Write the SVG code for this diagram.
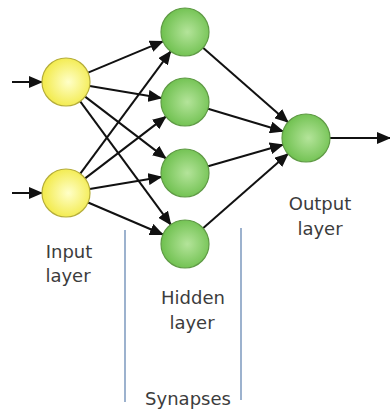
<svg xmlns="http://www.w3.org/2000/svg" width="390" height="410" viewBox="0 0 390 410">
<style>
.edge{stroke:#111;stroke-width:2;fill:none;marker-end:url(#ah)}
.yel{fill:url(#gy);stroke:#b5ad3a;stroke-width:1.2}
.grn{fill:url(#gg);stroke:#5f9a45;stroke-width:1.2}
.lbl{font-family:"DejaVu Sans",Verdana,sans-serif;font-size:18px;fill:#3c3c3c;text-anchor:middle}
.syn{stroke:#5b7fae;stroke-width:1.2}
</style>
<defs>
<radialGradient id="gy" cx="0.55" cy="0.5" r="0.55">
<stop offset="0" stop-color="#ffffc8"/>
<stop offset="1" stop-color="#f2ea48"/>
</radialGradient>
<radialGradient id="gg" cx="0.55" cy="0.5" r="0.55">
<stop offset="0" stop-color="#b4e49a"/>
<stop offset="1" stop-color="#6ec04e"/>
</radialGradient>
<marker id="ah" markerUnits="userSpaceOnUse" markerWidth="14" markerHeight="12" refX="13" refY="6" orient="auto">
<path d="M0,0 L14,6 L0,12 z" fill="#111"/>
</marker>
</defs>
<g id="connectors">
<line class="edge" x1="12" y1="82" x2="42" y2="82"/>
<line class="edge" x1="12" y1="193" x2="42" y2="193"/>
<line class="edge" x1="88.1" y1="72.7" x2="162.9" y2="41.3"/>
<line class="edge" x1="89.7" y1="86" x2="161.3" y2="98"/>
<line class="edge" x1="85.1" y1="96.6" x2="165.9" y2="158.4"/>
<line class="edge" x1="80.2" y1="101.3" x2="170.8" y2="224.7"/>
<line class="edge" x1="80.3" y1="173.7" x2="170.7" y2="51.3"/>
<line class="edge" x1="85.1" y1="178.4" x2="165.9" y2="116.6"/>
<line class="edge" x1="89.7" y1="189" x2="161.3" y2="177"/>
<line class="edge" x1="88.1" y1="202.5" x2="162.9" y2="234.5"/>
<line class="edge" x1="203" y1="47.8" x2="288" y2="122.2"/>
<line class="edge" x1="208" y1="108.8" x2="283" y2="131.2"/>
<line class="edge" x1="208.1" y1="166.3" x2="282.9" y2="144.7"/>
<line class="edge" x1="203" y1="228.2" x2="288" y2="153.8"/>
<line class="edge" x1="330" y1="138" x2="390" y2="138"/>
</g>
<g id="input1"><circle class="yel" cx="66" cy="82" r="24"/></g>
<g id="input2"><circle class="yel" cx="66" cy="193" r="24"/></g>
<g id="hidden1"><circle class="grn" cx="185" cy="32" r="24"/></g>
<g id="hidden2"><circle class="grn" cx="185" cy="102" r="24"/></g>
<g id="hidden3"><circle class="grn" cx="185" cy="173" r="24"/></g>
<g id="hidden4"><circle class="grn" cx="185" cy="244" r="24"/></g>
<g id="output"><circle class="grn" cx="306" cy="138" r="24"/></g>
<g id="labels">
<text class="lbl" x="69" y="258">Input</text>
<text class="lbl" x="68" y="282">layer</text>
<text class="lbl" x="320" y="210">Output</text>
<text class="lbl" x="320" y="235">layer</text>
<text class="lbl" x="193" y="304">Hidden</text>
<text class="lbl" x="192" y="329">layer</text>
<text class="lbl" x="188" y="405">Synapses</text>
</g>
<g id="synapses">
<line class="syn" x1="125" y1="230" x2="125" y2="402"/>
<line class="syn" x1="241" y1="228" x2="241" y2="400"/>
</g>
</svg>
